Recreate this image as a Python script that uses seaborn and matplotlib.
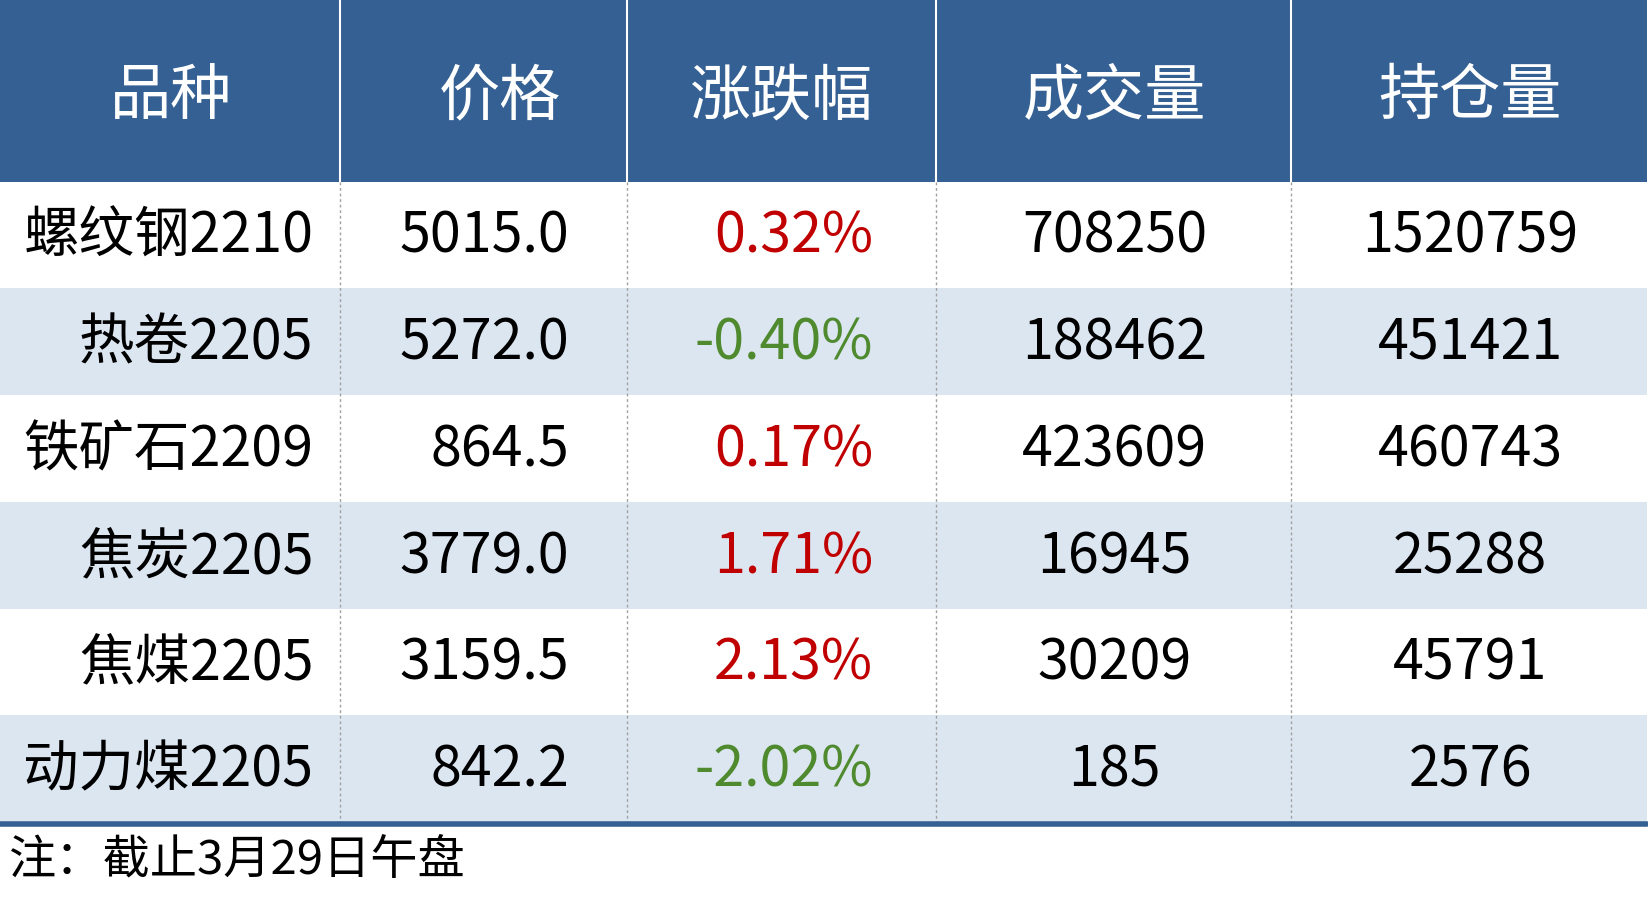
import matplotlib
matplotlib.use("Agg")
import matplotlib.pyplot as plt
import seaborn as sns

sns.set_theme(style="white")
plt.rcParams['font.family'] = ['Noto Sans CJK SC', 'DejaVu Sans']

headers = ["品种", "价格", "涨跌幅", "成交量", "持仓量"]
names = ["螺纹钢2210", "热卷2205", "铁矿石2209", "焦炭2205", "焦煤2205", "动力煤2205"]
prices = ["5015.0", "5272.0", "864.5", "3779.0", "3159.5", "842.2"]
changes = ["0.32%", "-0.40%", "0.17%", "1.71%", "2.13%", "-2.02%"]
volumes = ["708250", "188462", "423609", "16945", "30209", "185"]
holdings = ["1520759", "451421", "460743", "25288", "45791", "2576"]
note = "注：截止3月29日午盘"

W, H = 1568, 850
col_edges = [0, 323, 596, 890, 1228, 1566]
header_bottom = 172
row_h = 101
fig = plt.figure(figsize=(16.49, 8.98), dpi=100)
ax = fig.add_axes([0, 0, 1, 1])
ax.set_xlim(0, W); ax.set_ylim(H, 0); ax.axis("off")

hdr_col = "#356093"
band = "#DCE6F1"
ax.axhspan(0, header_bottom, xmin=0, xmax=col_edges[-1] / W, color=hdr_col, lw=0)
for i in range(len(names)):
    top = header_bottom + i * row_h
    if i % 2 == 1:
        ax.axhspan(top, top + row_h, xmin=0, xmax=col_edges[-1] / W, color=band, lw=0)
tbl_bottom = header_bottom + len(names) * row_h
for x in col_edges[1:-1]:
    ax.plot([x, x], [0, header_bottom], color="white", lw=1.5)
    ax.plot([x, x], [header_bottom, tbl_bottom], color="#A0A0A0", lw=1, ls=(0, (2, 2)))
ax.plot([0, col_edges[-1]], [tbl_bottom + 2, tbl_bottom + 2], color=hdr_col, lw=4)

hx = [163, 475, 743, 1060, 1398]
for x, h in zip(hx, headers):
    ax.text(x, 92, h, color="white", fontsize=44, ha="center", va="center")

for i in range(len(names)):
    y = header_bottom + i * row_h + row_h / 2 + 2
    ax.text(298, y, names[i], fontsize=40, ha="right", va="center", color="black")
    ax.text(541, y, prices[i], fontsize=40, ha="right", va="center", color="black")
    c = "#4F8A2F" if changes[i].startswith("-") else "#C00000"
    ax.text(830, y, changes[i], fontsize=40, ha="right", va="center", color=c)
    ax.text(1060, y, volumes[i], fontsize=40, ha="center", va="center", color="black")
    ax.text(1398, y, holdings[i], fontsize=40, ha="center", va="center", color="black")

ax.text(8, 815, note, fontsize=34, ha="left", va="center", color="black")
fig.savefig("out.png", dpi=100, facecolor="white")
